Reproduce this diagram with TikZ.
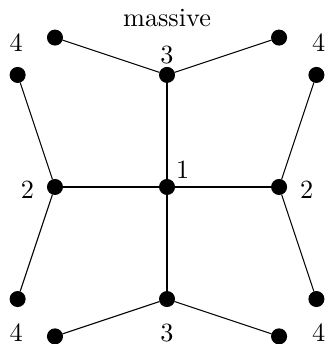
\documentclass[tikz,border=0pt]{standalone}
\begin{document}
\begin{tikzpicture}[x=1cm,y=1cm]
\tikzset{dot/.style={draw, circle, fill, inner sep=0pt, minimum size=0.2cm}}
\useasboundingbox (-2.236,-2.102) rectangle (2.155,2.503);

\node (title) at (0,2.26) {massive};

\node[dot] (c) at (0,0) {};
\node[dot] (t) at (0,1.5) {};
\node[dot] (b) at (0,-1.5) {};
\node[dot] (l) at (-1.5,0) {};
\node[dot] (r) at (1.5,0) {};

\node[dot] (tl) at (-1.5,2) {};
\node[dot] (tr) at (1.5,2) {};
\node[dot] (bl) at (-1.5,-2) {};
\node[dot] (br) at (1.5,-2) {};
\node[dot] (lt) at (-2,1.5) {};
\node[dot] (lb) at (-2,-1.5) {};
\node[dot] (rt) at (2,1.5) {};
\node[dot] (rb) at (2,-1.5) {};

\node (c1) at (0.21,0.23) {1};
\node (l2) at (-1.87,-0.04) {2};
\node (r2) at (1.87,-0.04) {2};
\node (t3) at (0,1.77) {3};
\node (b3) at (0,-1.95) {3};
\node (lt4) at (-2.02,1.93) {4};
\node (rt4) at (2.03,1.93) {4};
\node (lb4) at (-2.02,-1.95) {4};
\node (rb4) at (2.03,-1.95) {4};

\draw (c) -- (t);
\draw (c) -- (b);
\draw (c) -- (l);
\draw (c) -- (r);
\draw (t) -- (tl);
\draw (t) -- (tr);
\draw (b) -- (bl);
\draw (b) -- (br);
\draw (l) -- (lt);
\draw (l) -- (lb);
\draw (r) -- (rt);
\draw (r) -- (rb);
\end{tikzpicture}
\end{document}
